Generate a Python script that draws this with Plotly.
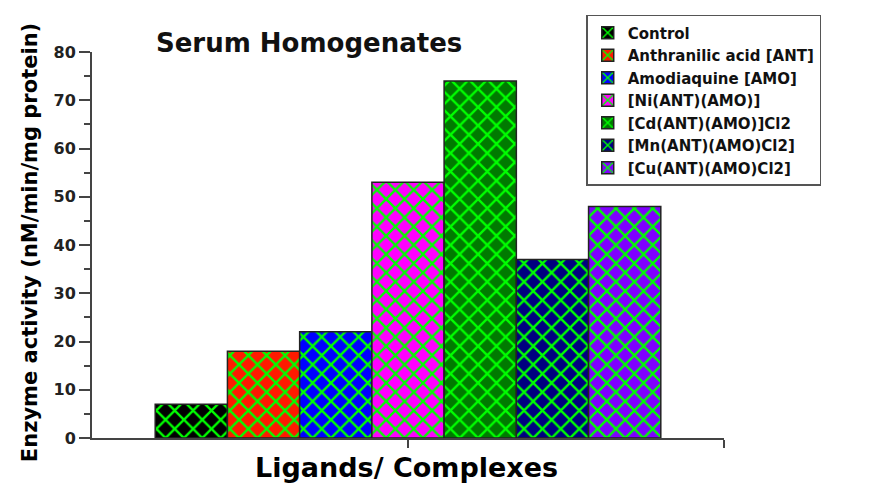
import plotly.graph_objects as go

names = [
    "Control",
    "Anthranilic acid [ANT]",
    "Amodiaquine [AMO]",
    "[Ni(ANT)(AMO)]",
    "[Cd(ANT)(AMO)]Cl2",
    "[Mn(ANT)(AMO)Cl2]",
    "[Cu(ANT)(AMO)Cl2]",
]
values = [7, 18, 22, 53, 74, 37, 48]
colors = ["#000000", "#ff1a00", "#0000ff", "#ff00ff", "#007a00", "#000080", "#7f00ff"]

FONT = "DejaVu Sans"

fig = go.Figure()
for name, val, col in zip(names, values, colors):
    fig.add_trace(
        go.Bar(
            x=[0],
            y=[val],
            name=name,
            marker=dict(
                color=col,
                line=dict(color="#222222", width=1.5),
                pattern=dict(shape="x", fgcolor="#00ff00", fgopacity=1, bgcolor=col,
                             size=13, solidity=0.33, fillmode="overlay"),
            ),
        )
    )

# page body has an 8px margin, so the figure is a bit smaller than the window
fig.update_layout(
    width=861,
    height=475,
    barmode="group",
    bargap=0.2,
    bargroupgap=0,
    plot_bgcolor="white",
    paper_bgcolor="white",
    margin=dict(l=84, r=145, t=44, b=45, autoexpand=False),
    font=dict(family=FONT, color="#111111"),
    legend=dict(
        x=0.782,
        y=1.096,
        xanchor="left",
        yanchor="top",
        bordercolor="#555555",
        borderwidth=1.5,
        bgcolor="white",
        font=dict(size=15, family=FONT, color="#111111", weight="bold"),
        tracegroupgap=0,
    ),
    xaxis=dict(
        range=[-0.5, 0.5],
        tickvals=[0, 0.5],
        ticktext=["", ""],
        ticks="outside",
        ticklen=8,
        tickwidth=1.5,
        tickcolor="#444444",
        showline=True,
        linecolor="#444444",
        linewidth=2,
        showgrid=False,
        zeroline=False,
        automargin=False,
    ),
    yaxis=dict(
        range=[0, 80],
        tickvals=[0, 10, 20, 30, 40, 50, 60, 70, 80],
        ticks="outside",
        ticklen=11,
        tickwidth=1.5,
        tickcolor="#444444",
        tickfont=dict(size=16, color="#222222", weight="bold"),
        minor=dict(dtick=5, ticks="outside", ticklen=6, tickcolor="#444444"),
        showline=True,
        linecolor="#444444",
        linewidth=2,
        showgrid=False,
        zeroline=False,
        automargin=False,
    ),
    annotations=[
        dict(
            text="<b>Serum Homogenates</b>",
            x=0.343, y=1.023, xref="paper", yref="paper",
            xanchor="center", yanchor="middle", showarrow=False,
            font=dict(size=26, color="#111111"),
        ),
        dict(
            text="<b>Ligands/ Complexes</b>",
            x=0.498, y=-0.076, xref="paper", yref="paper",
            xanchor="center", yanchor="middle", showarrow=False,
            font=dict(size=27, color="#000000"),
        ),
        dict(
            text="<b>Enzyme activity (nM/min/mg protein)</b>",
            x=-0.098, y=0.505, xref="paper", yref="paper",
            xanchor="center", yanchor="middle", showarrow=False, textangle=-90,
            font=dict(size=21, color="#000000"),
        ),
    ],
)

fig.write_html("out.html")
